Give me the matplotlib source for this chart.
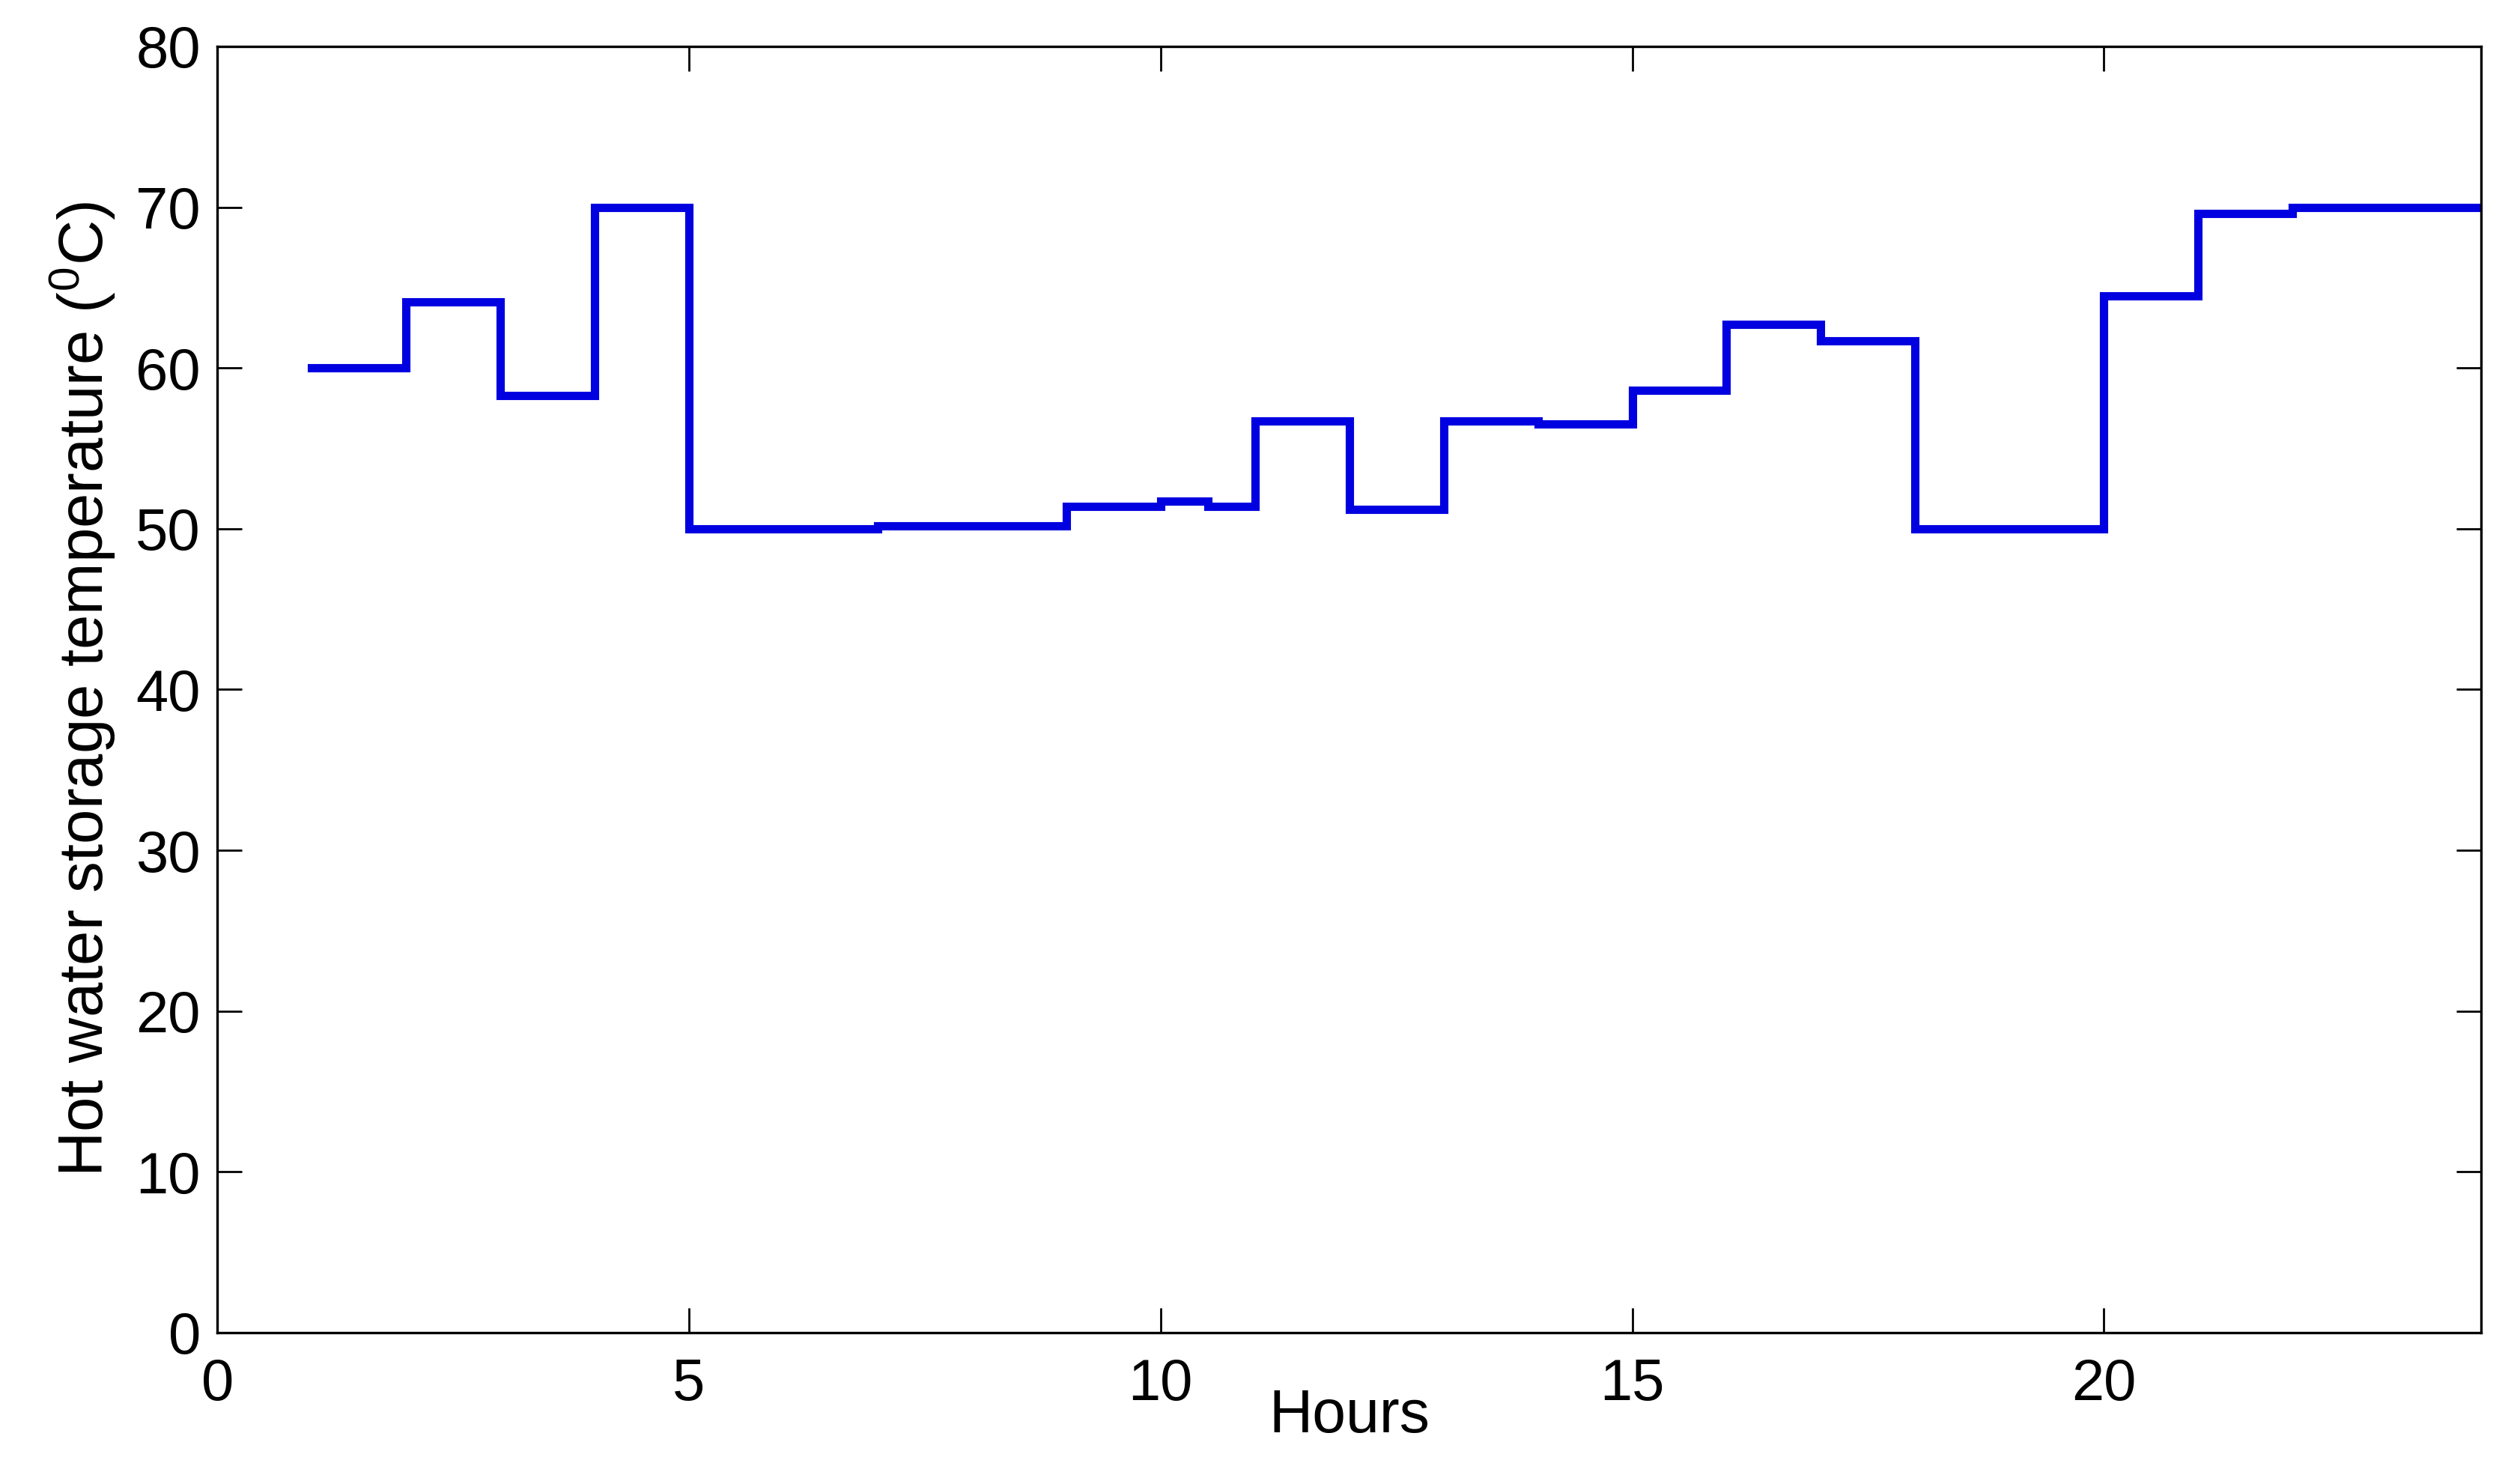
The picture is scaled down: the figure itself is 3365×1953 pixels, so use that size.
import matplotlib
matplotlib.use("Agg")
import matplotlib.pyplot as plt

plt.rcParams['font.family'] = ['Liberation Sans', 'DejaVu Sans']
plt.rcParams['mathtext.fontset'] = 'custom'
plt.rcParams['mathtext.rm'] = 'Liberation Sans'
plt.rcParams['mathtext.it'] = 'Liberation Sans'

# Step start times (hours) and hot water storage temperature (deg C)
hours = [1, 2, 3, 4, 5, 7, 9, 10, 10.5, 11, 12, 13, 14, 15, 16, 17, 18, 20, 21, 22, 24]
temps = [60.0, 64.1, 58.3, 70.0, 50.0, 50.2, 51.4, 51.7, 51.4, 56.7, 51.2, 56.7,
         56.5, 58.6, 62.7, 61.7, 50.0, 64.5, 69.6, 70.0, 70.0]

xticks = [0, 5, 10, 15, 20]
yticks = [0, 10, 20, 30, 40, 50, 60, 70, 80]

fig = plt.figure(figsize=(16.83, 9.765), dpi=200)
ax = fig.add_axes([0.0862, 0.0891, 0.8981, 0.8792])

ax.step(hours, temps, where='post', color='#0000e0', linewidth=4.0, solid_joinstyle='miter')

ax.set_xlim(0, 24)
ax.set_ylim(0, 80)
ax.set_xticks(xticks)
ax.set_yticks(yticks)
ax.tick_params(direction='in', length=12, width=1.0, labelsize=28,
               top=True, right=True, colors='black')
ax.tick_params(axis='x', pad=12)
ax.tick_params(axis='y', pad=8)
for s in ax.spines.values():
    s.set_linewidth(1.2)

ax.set_xlabel('Hours', fontsize=29)
ax.xaxis.set_label_coords(0.5, -0.043)
ax.set_ylabel(r'Hot water storage temperature ($^0$C)', fontsize=30)
ax.yaxis.set_label_coords(-0.044, 0.5)

fig.savefig('out.png', dpi=200, facecolor='white')
